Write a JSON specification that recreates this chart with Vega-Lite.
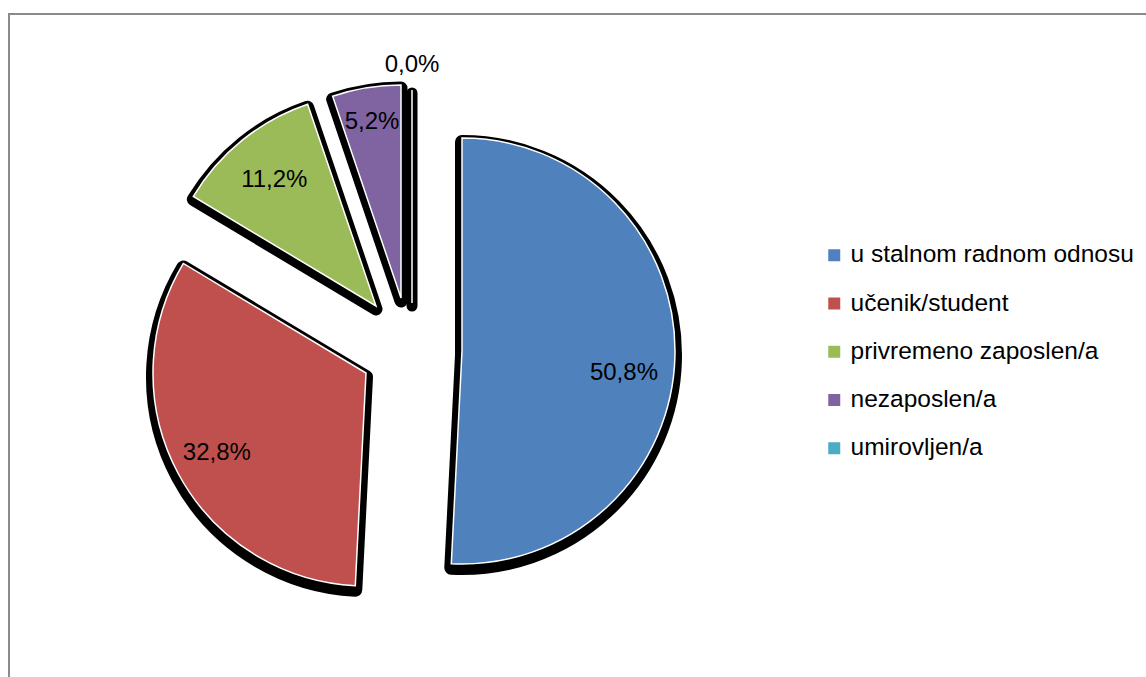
{
  "$schema": "https://vega.github.io/schema/vega-lite/v6.json",
  "width": 1140,
  "height": 700,
  "padding": {"left": 9, "top": 14, "right": 0, "bottom": 0},
  "background": "white",
  "view": {"stroke": "#8a8a8a", "strokeWidth": 2, "fill": "white"},
  "config": {
    "view": {"stroke": "#8a8a8a", "strokeWidth": 2},
    "locale": {"number": {"decimal": ",", "thousands": ".", "grouping": [3], "currency": ["", " kn"], "percent": "%"}}
  },
  "data": {
    "values": [
      {"status": "u stalnom radnom odnosu", "share": 0.508, "rank": 1},
      {"status": "učenik/student", "share": 0.328, "rank": 2},
      {"status": "privremeno zaposlen/a", "share": 0.112, "rank": 3},
      {"status": "nezaposlen/a", "share": 0.052, "rank": 4},
      {"status": "umirovljen/a", "share": 0.0, "rank": 5}
    ]
  },
  "encoding": {
    "theta": {"field": "share", "type": "quantitative", "stack": true},
    "order": {"field": "rank", "type": "quantitative"},
    "detail": {"field": "status", "type": "nominal"}
  },
  "layer": [
    {"mark": {"type": "arc", "radius": 213, "fill": "black", "stroke": "black", "strokeWidth": 14, "strokeJoin": "round", "xOffset": -117, "yOffset": -9},
     "encoding": {"opacity": {"condition": {"test": "datum.rank === 1", "value": 1}, "value": 0}}},
    {"mark": {"type": "arc", "radius": 213, "stroke": "white", "strokeWidth": 1.5, "xOffset": -117, "yOffset": -13},
     "encoding": {
       "color": {"field": "status", "type": "nominal", "sort": null,
         "scale": {"domain": ["u stalnom radnom odnosu", "učenik/student", "privremeno zaposlen/a", "nezaposlen/a", "umirovljen/a"], "range": ["#4F81BD", "#C0504D", "#9BBB59", "#8064A2", "#4BACC6"]},
         "legend": {"orient": "none", "legendX": 813, "legendY": 229, "title": null, "symbolType": "square", "symbolSize": 144, "symbolStrokeWidth": 0, "symbolOpacity": 1, "labelFontSize": 24.5, "labelFont": "Liberation Sans", "labelColor": "black", "rowPadding": 23.25, "labelOffset": 4, "padding": 0, "labelLimit": 400}},
       "opacity": {"condition": {"test": "datum.rank === 1", "value": 1}, "value": 0}}},
    {"mark": {"type": "text", "radius": 162, "font": "Liberation Sans", "fontSize": 24, "color": "black", "xOffset": -117, "yOffset": -13, "dy": 18},
     "encoding": {"text": {"field": "share", "type": "quantitative", "format": ".1%"},
       "opacity": {"condition": {"test": "datum.rank === 1", "value": 1}, "value": 0}}},

    {"mark": {"type": "arc", "radius": 213, "fill": "black", "stroke": "black", "strokeWidth": 14, "strokeJoin": "round", "xOffset": -213, "yOffset": 13},
     "encoding": {"opacity": {"condition": {"test": "datum.rank === 2", "value": 1}, "value": 0}}},
    {"mark": {"type": "arc", "radius": 213, "stroke": "white", "strokeWidth": 1.5, "xOffset": -213, "yOffset": 9},
     "encoding": {
       "color": {"field": "status", "type": "nominal", "sort": null,
         "scale": {"domain": ["u stalnom radnom odnosu", "učenik/student", "privremeno zaposlen/a", "nezaposlen/a", "umirovljen/a"], "range": ["#4F81BD", "#C0504D", "#9BBB59", "#8064A2", "#4BACC6"]},
         "legend": {"orient": "none", "legendX": 813, "legendY": 229, "title": null, "symbolType": "square", "symbolSize": 144, "symbolStrokeWidth": 0, "symbolOpacity": 1, "labelFontSize": 24.5, "labelFont": "Liberation Sans", "labelColor": "black", "rowPadding": 23.25, "labelOffset": 4, "padding": 0, "labelLimit": 400}},
       "opacity": {"condition": {"test": "datum.rank === 2", "value": 1}, "value": 0}}},
    {"mark": {"type": "text", "radius": 169, "font": "Liberation Sans", "fontSize": 24, "color": "black", "xOffset": -213, "yOffset": 9},
     "encoding": {"text": {"field": "share", "type": "quantitative", "format": ".1%"},
       "opacity": {"condition": {"test": "datum.rank === 2", "value": 1}, "value": 0}}},

    {"mark": {"type": "arc", "radius": 213, "fill": "black", "stroke": "black", "strokeWidth": 13, "strokeJoin": "round", "xOffset": -203, "yOffset": -55},
     "encoding": {"opacity": {"condition": {"test": "datum.rank === 3", "value": 1}, "value": 0}}},
    {"mark": {"type": "arc", "radius": 213, "stroke": "white", "strokeWidth": 1.5, "xOffset": -203, "yOffset": -58},
     "encoding": {
       "color": {"field": "status", "type": "nominal", "sort": null,
         "scale": {"domain": ["u stalnom radnom odnosu", "učenik/student", "privremeno zaposlen/a", "nezaposlen/a", "umirovljen/a"], "range": ["#4F81BD", "#C0504D", "#9BBB59", "#8064A2", "#4BACC6"]},
         "legend": {"orient": "none", "legendX": 813, "legendY": 229, "title": null, "symbolType": "square", "symbolSize": 144, "symbolStrokeWidth": 0, "symbolOpacity": 1, "labelFontSize": 24.5, "labelFont": "Liberation Sans", "labelColor": "black", "rowPadding": 23.25, "labelOffset": 4, "padding": 0, "labelLimit": 400}},
       "opacity": {"condition": {"test": "datum.rank === 3", "value": 1}, "value": 0}}},
    {"mark": {"type": "text", "radius": 162, "font": "Liberation Sans", "fontSize": 24, "color": "black", "xOffset": -203, "yOffset": -58},
     "encoding": {"text": {"field": "share", "type": "quantitative", "format": ".1%"},
       "opacity": {"condition": {"test": "datum.rank === 3", "value": 1}, "value": 0}}},

    {"mark": {"type": "arc", "radius": 213, "fill": "black", "stroke": "black", "strokeWidth": 13, "strokeJoin": "round", "xOffset": -178, "yOffset": -63},
     "encoding": {"opacity": {"condition": {"test": "datum.rank === 4", "value": 1}, "value": 0}}},
    {"mark": {"type": "arc", "radius": 213, "stroke": "white", "strokeWidth": 1.5, "xOffset": -178, "yOffset": -66},
     "encoding": {
       "color": {"field": "status", "type": "nominal", "sort": null,
         "scale": {"domain": ["u stalnom radnom odnosu", "učenik/student", "privremeno zaposlen/a", "nezaposlen/a", "umirovljen/a"], "range": ["#4F81BD", "#C0504D", "#9BBB59", "#8064A2", "#4BACC6"]},
         "legend": {"orient": "none", "legendX": 813, "legendY": 229, "title": null, "symbolType": "square", "symbolSize": 144, "symbolStrokeWidth": 0, "symbolOpacity": 1, "labelFontSize": 24.5, "labelFont": "Liberation Sans", "labelColor": "black", "rowPadding": 23.25, "labelOffset": 4, "padding": 0, "labelLimit": 400}},
       "opacity": {"condition": {"test": "datum.rank === 4", "value": 1}, "value": 0}}},
    {"mark": {"type": "text", "radius": 178, "font": "Liberation Sans", "fontSize": 24, "color": "black", "xOffset": -178, "yOffset": -66},
     "encoding": {"text": {"field": "share", "type": "quantitative", "format": ".1%"},
       "opacity": {"condition": {"test": "datum.rank === 4", "value": 1}, "value": 0}}},

    {"mark": {"type": "arc", "radius": 213, "fill": "black", "stroke": "black", "strokeWidth": 11, "strokeJoin": "round", "strokeCap": "round", "xOffset": -167, "yOffset": -58},
     "encoding": {"opacity": {"condition": {"test": "datum.rank === 5", "value": 1}, "value": 0}}},
    {"mark": {"type": "arc", "radius": 213, "stroke": "white", "strokeWidth": 1.5, "xOffset": -167, "yOffset": -61},
     "encoding": {
       "color": {"field": "status", "type": "nominal", "sort": null,
         "scale": {"domain": ["u stalnom radnom odnosu", "učenik/student", "privremeno zaposlen/a", "nezaposlen/a", "umirovljen/a"], "range": ["#4F81BD", "#C0504D", "#9BBB59", "#8064A2", "#4BACC6"]},
         "legend": {"orient": "none", "legendX": 813, "legendY": 229, "title": null, "symbolType": "square", "symbolSize": 144, "symbolStrokeWidth": 0, "symbolOpacity": 1, "labelFontSize": 24.5, "labelFont": "Liberation Sans", "labelColor": "black", "rowPadding": 23.25, "labelOffset": 4, "padding": 0, "labelLimit": 400}},
       "opacity": {"condition": {"test": "datum.rank === 5", "value": 1}, "value": 0}}},
    {"mark": {"type": "text", "radius": 238, "font": "Liberation Sans", "fontSize": 24, "color": "black", "xOffset": -167, "yOffset": -61},
     "encoding": {"text": {"field": "share", "type": "quantitative", "format": ".1%"},
       "opacity": {"condition": {"test": "datum.rank === 5", "value": 1}, "value": 0}}}
  ]
}
